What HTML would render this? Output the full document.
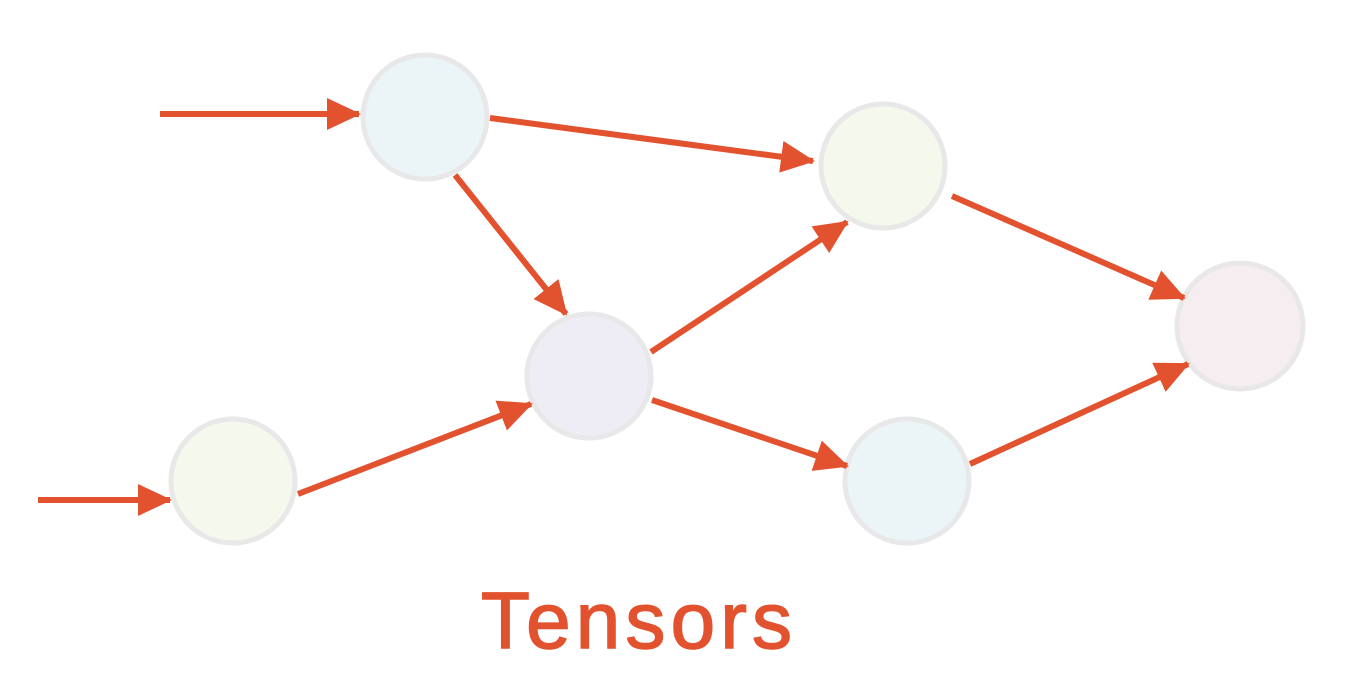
<!DOCTYPE html>
<html><head><meta charset="utf-8"><style>
html,body{margin:0;padding:0;background:#fff;}
svg{display:block}
</style></head><body>
<svg width="1347" height="682" viewBox="0 0 1347 682" xmlns="http://www.w3.org/2000/svg">
<defs>
<marker id="ah" markerUnits="userSpaceOnUse" markerWidth="34" markerHeight="32" refX="32" refY="16" orient="auto">
<polygon points="0,0 34,16 0,32" fill="#e2522f"/>
</marker>
</defs>
<g fill="none" stroke="#e8e8e8" stroke-width="5">
<circle cx="425" cy="117" r="62" fill="#ebf5f8"/>
<circle cx="883" cy="166" r="62" fill="#f5f8ed"/>
<circle cx="589" cy="376" r="62" fill="#eeedf5"/>
<circle cx="233" cy="481" r="62" fill="#f5f8ed"/>
<circle cx="907" cy="481" r="62" fill="#ebf5f8"/>
<circle cx="1240" cy="326" r="63" fill="#f5edf0"/>
</g>
<g stroke="#e2522f" stroke-width="6" marker-end="url(#ah)">
<line x1="160" y1="114" x2="359" y2="114"/>
<line x1="38" y1="500" x2="170" y2="500"/>
<line x1="490" y1="118" x2="813" y2="161"/>
<line x1="455" y1="175" x2="566" y2="314"/>
<line x1="298" y1="494" x2="531" y2="404"/>
<line x1="651" y1="352" x2="847" y2="222"/>
<line x1="652" y1="400" x2="847" y2="466"/>
<line x1="952" y1="196" x2="1184" y2="298"/>
<line x1="970" y1="464" x2="1188" y2="364"/>
</g>
<text x="481" y="648" font-family="Liberation Sans, sans-serif" font-size="80" fill="#e2522f" stroke="#e2522f" stroke-width="1.5" textLength="311">Tensors</text>
</svg>
</body></html>
